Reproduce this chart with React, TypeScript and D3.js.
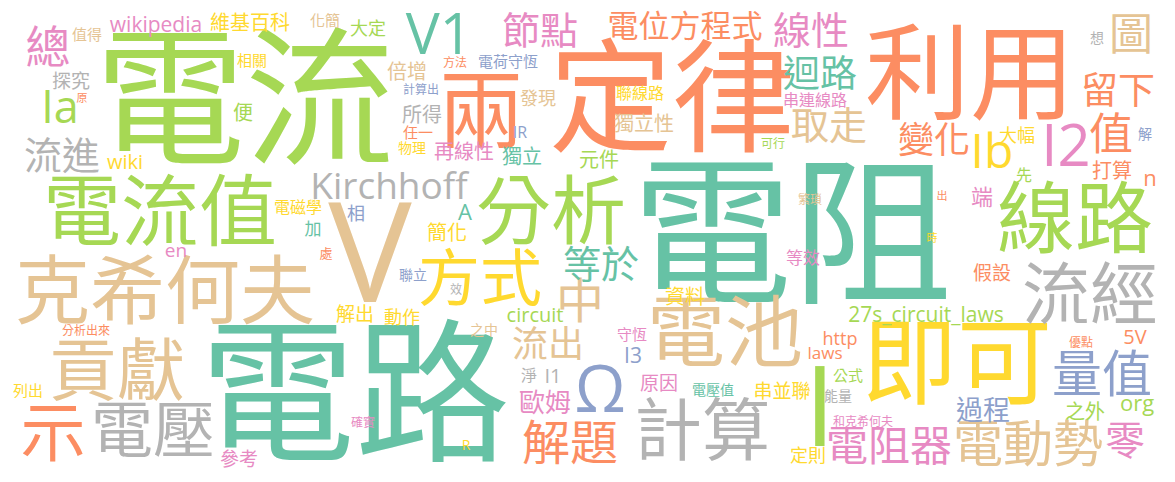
import React from 'react';
import * as d3 from 'd3';

// word cloud terms
const words = [
    '電阻', '電流', '電路', '定律', '利用', 'V', '即可', '兩', '分析', '電流值',
    '克希何夫', '線路', '電池', '流經', '計算', '貢獻', '示', '電壓', '方式', 'Ω',
    'I', 'V1', 'I2', '量值', '電動勢', '解題', '中', 'Ib', '總', 'Ia',
    '值', '圖', '電阻器', '零', '線性', '節點', '取走', '流進', '等於', '迴路',
    '留下', '變化', '流出', 'Kirchhoff', '電位方程式', '過程', '歐姆', 'wikipedia', 'A', 'n',
    'org', '端', 'I3', '維基百科', 'wiki', '5V', 'circuit', '27s_circuit_laws', 'I1', '簡化',
    '元件', '獨立', '再線性', '所得', '倍增', '便', '獨立性', '打算', '資料', '之外',
    '原因', '串並聯', '假設', '探究', 'en', '參考', '解出', '動作', '大定', '發現',
    '大幅', '相', '定則', 'http', 'laws', '加', '等效', '電磁學', '先', '串連線路',
    '聯線路', '淨', 'IR', '化簡', '電荷守恆', '值得', '相關', '任一', '列出', '公式',
    '守恆', '物理', '電壓值', '之中', '聯立', '解', '想', 'R', '能量', '處',
    '方法', '計算出', '可行', '效', '分析出來', '確實', '繁瑣', '優點', '和克希何夫', '原',
    '出', '時',
];

// relative frequency of each term
const weights = [
    80, 75, 77.5, 61.5, 52.5, 70, 47.5, 42.5, 37.5, 39,
    37.5, 39, 39, 34, 34, 34, 32.5, 31, 31, 32.5,
    56, 28.5, 29, 25, 25, 24, 24, 24, 22.5, 22.5,
    22, 22, 21, 20, 19, 19, 19, 19, 19, 18.5,
    18.5, 18, 18, 18.5, 15.5, 13.5, 13, 10.5, 11, 11,
    11, 11, 10.5, 10, 10, 10, 10, 10.5, 10, 10,
    10, 10, 10, 10, 10, 10, 10, 10, 10, 10,
    9.5, 9.5, 9.5, 9.5, 9.5, 9.5, 9.5, 9, 9, 9,
    9, 9, 9, 9, 8.5, 8.5, 8.5, 8, 8, 8,
    8, 8, 8, 7.5, 7.5, 7.5, 7.5, 7.5, 7.5, 7.5,
    7.5, 7, 7, 7, 7, 7, 7, 7, 7, 6.5,
    6, 6, 6, 6, 6, 6, 6, 6, 6, 5.5,
    5.5, 5.5,
];

// cloud layout result (cloud units)
const layoutX = [
    792, 245, 355, 672, 970, 370, 957, 481, 551, 160,
    165, 1075, 725, 1090, 702, 117, 53, 153, 480, 600,
    820, 439, 1066, 1102, 1028, 570, 580, 992, 48, 60,
    1111, 1131, 889, 1125, 811, 540, 829, 62, 601, 820,
    1118, 934, 548, 389, 685, 983, 545, 156, 465, 1150,
    1137, 982, 633, 250, 125, 1135, 535, 926, 553, 447,
    599, 522, 464, 422, 407, 243, 644, 1112, 685, 1085,
    659, 782, 992, 71, 176, 239, 355, 402, 368, 538,
    1017, 356, 808, 840, 825, 313, 803, 298, 1024, 815,
    640, 529, 520, 325, 508, 87, 252, 418, 28, 848,
    632, 412, 713, 484, 413, 1145, 1097, 466, 838, 326,
    455, 421, 773, 456, 86, 363, 810, 1081, 863, 82,
    942, 932,
];
const layoutY = [
    232, 97, 392, 96, 72, 250, 362, 110, 210, 211,
    290, 218, 332, 294, 430, 370, 432, 430, 278, 388,
    405, 33, 145, 373, 443, 442, 300, 150, 47, 106,
    134, 34, 445, 440, 30, 30, 125, 155, 264, 73,
    90, 140, 344, 185, 26, 410, 402, 24, 212, 178,
    403, 197, 355, 23, 162, 337, 315, 314, 376, 233,
    160, 157, 152, 115, 72, 113, 124, 171, 297, 412,
    383, 391, 273, 81, 250, 459, 314, 317, 28, 98,
    135, 213, 455, 338, 353, 229, 258, 207, 175, 100,
    93, 375, 132, 20, 61, 34, 60, 132, 390, 375,
    334, 148, 390, 330, 275, 134, 38, 445, 396, 253,
    63, 90, 144, 290, 331, 423, 200, 343, 422, 98,
    196, 238,
];

// colour group of each term
const groups = [
    0, 4, 0, 1, 1, 6, 5, 1, 4, 4,
    6, 4, 6, 7, 7, 6, 1, 7, 5, 2,
    4, 0, 3, 2, 6, 1, 6, 5, 3, 4,
    1, 6, 3, 3, 3, 3, 6, 7, 0, 0,
    1, 1, 6, 7, 1, 2, 3, 3, 0, 1,
    4, 3, 2, 5, 5, 1, 4, 4, 7, 5,
    4, 0, 3, 7, 6, 4, 6, 1, 5, 4,
    3, 5, 1, 7, 3, 3, 5, 5, 4, 6,
    5, 2, 5, 1, 1, 0, 3, 5, 4, 3,
    5, 7, 2, 6, 2, 6, 5, 1, 5, 4,
    3, 5, 0, 6, 2, 2, 7, 5, 7, 1,
    1, 2, 4, 7, 1, 3, 6, 1, 3, 1,
    1, 5,
];

const width = 1175;
const height = 482;

export default function App() {
    const x = d3.scaleLinear().domain([0, 1175]).range([0, width]);
    const y = d3.scaleLinear().domain([0, 482]).range([0, height]);
    const fontSize = d3.scaleLinear().domain([0, 80]).range([0, 160]);
    const color = d3.scaleOrdinal<number, string>().domain(d3.range(8)).range(d3.schemeSet2);

    return (
        <svg
            width={width}
            height={height}
            style={{ position: 'fixed', left: 0, top: 0, background: '#fff' }}
            fontFamily='"Open Sans", "Noto Sans CJK TC", sans-serif'
        >
            <rect width={width} height={height} fill="#fff" />
            {words.map((w, i) => {
                const size = fontSize(weights[i]);
                return (
                    <text
                        key={i}
                        x={x(layoutX[i])}
                        y={y(layoutY[i]) + size * 0.37}
                        fontSize={size}
                        textAnchor="middle"
                        fill={color(groups[i])}
                    >
                        {w}
                    </text>
                );
            })}
        </svg>
    );
}
